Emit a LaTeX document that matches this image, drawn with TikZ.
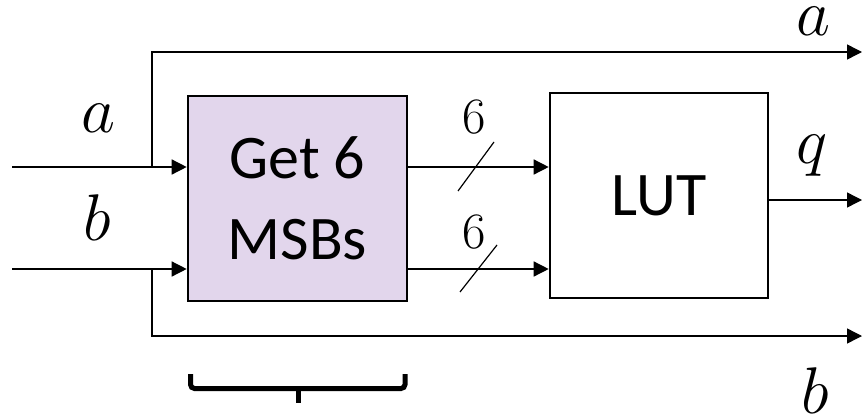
\RequirePackage{fix-cm}
\documentclass[tikz,border=0pt]{standalone}
\usepackage{fontspec}
\newfontfamily\boxfont{Carlito}
\usetikzlibrary{arrows.meta}
\definecolor{boxpurple}{RGB}{226,214,236}
\begin{document}
\begin{tikzpicture}[x=1pt,y=-1pt,
  blk/.style={draw=black, line width=2.6pt, inner sep=0pt, align=center,
    font=\boxfont\fontsize{62}{81}\selectfont},
  wire/.style={line width=1.4pt},
  arr/.style={wire, -{Triangle[length=15pt,width=15pt]}},
  mathlbl/.style={inner sep=0pt, anchor=base, font=\fontsize{66}{70}\selectfont},
  numlbl/.style={inner sep=0pt, font=\fontsize{51}{56}\selectfont},
  slash/.style={line width=1.2pt},
  bracestyle/.style={line width=5pt, rounded corners=4pt}]
\useasboundingbox (0,0) rectangle (866,415);

\node[blk, fill=boxpurple, minimum width=219pt, minimum height=205pt] (gb) at (297.5,198.5) {Get 6\\MSBs};
\node[blk, fill=white, minimum width=218pt, minimum height=205pt] (lut) at (659,195.5) {LUT};

% input coordinates
\coordinate (ina) at (12,167);
\coordinate (inb) at (12,269);
\coordinate (ja) at (152,167);
\coordinate (jb) at (152,269);
\coordinate (outa) at (862,52);
\coordinate (outb) at (862,336);
\coordinate (outq) at (862,200);

\draw[arr] (ina) -- (gb.west |- ina);
\draw[arr] (inb) -- (gb.west |- inb);
\draw[arr] (ja) |- (outa);
\draw[arr] (jb) |- (outb);
\draw[arr] (lut.east |- outq) -- (outq);

\coordinate (m1) at (0,167);
\coordinate (m2) at (0,269);
\draw[arr] (gb.east |- m1) -- (lut.west |- m1);
\draw[arr] (gb.east |- m2) -- (lut.west |- m2);

% bus slashes
\coordinate (s1a) at (458,191);
\coordinate (s1b) at (494,142);
\coordinate (s2a) at (460,292);
\coordinate (s2b) at (497,245);
\draw[slash] (s1a) -- (s1b);
\draw[slash] (s2a) -- (s2b);
\node[numlbl] (n1) at (474,117) {6};
\node[numlbl] (n2) at (474,232) {6};

% labels
\node[mathlbl] (la) at (98,132) {$a$};
\node[mathlbl] (lb) at (97,240) {$b$};
\node[mathlbl] (ra) at (813,35) {$a$};
\node[mathlbl] (rq) at (812,163) {$q$};
\node[mathlbl] (rb) at (815,413) {$b$};

% brace
\coordinate (br1) at (190.5,374);
\coordinate (br2) at (190.5,388.5);
\coordinate (br3) at (405,388.5);
\coordinate (br4) at (405,374);
\coordinate (bm) at (298,388.5);
\coordinate (bs) at (298,403);
\draw[bracestyle] (br1) -- (br2) -- (br3) -- (br4);
\draw[line width=5pt] (bm) -- (bs);
\end{tikzpicture}
\end{document}
